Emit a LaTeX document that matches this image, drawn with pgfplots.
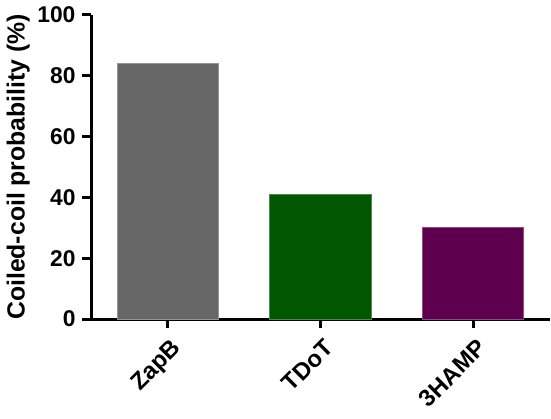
\documentclass[border=0pt]{standalone}
\usepackage{fontspec}
\setmainfont{Liberation Sans}
\usepackage{pgfplots}
\pgfplotsset{compat=1.18}
\definecolor{zgray}{HTML}{666666}
\definecolor{tgreen}{HTML}{005700}
\definecolor{hpurple}{HTML}{5E004E}
\begin{document}
\begin{tikzpicture}
\begin{axis}[
  scale only axis,
  width=231pt, height=153.5pt,
  ymin=0, ymax=100,
  xmin=-0.5, xmax=2.5,
  ytick={0,20,40,60,80,100},
  xtick={0,1,2},
  xticklabels={ZapB,TDoT,3HAMP},
  axis lines=left,
  axis line style={line width=1.5pt, -},
  tick style={line width=1.5pt, black},
  major tick length=4.5pt,
  tick align=outside,
  /pgf/number format/assume math mode=true,
  ticklabel style={font=\bfseries\fontsize{11.5}{13}\selectfont},
  x tick label style={font=\bfseries\fontsize{12}{14}\selectfont, rotate=45, anchor=north east, xshift=1pt, yshift=-1pt},
  ylabel={\bfseries Coiled-coil probability (\%)},
  ylabel style={font=\bfseries\fontsize{12.5}{14}\selectfont, yshift=-3pt},
  ybar, bar width=51pt,
  clip=false,
]
\addplot[fill=zgray, draw=zgray!70, bar shift=0pt] coordinates {(0,84)};
\addplot[fill=tgreen, draw=tgreen!70, bar shift=0pt] coordinates {(1,41)};
\addplot[fill=hpurple, draw=hpurple!70, bar shift=0pt] coordinates {(2,30)};
\end{axis}
\end{tikzpicture}
\end{document}
